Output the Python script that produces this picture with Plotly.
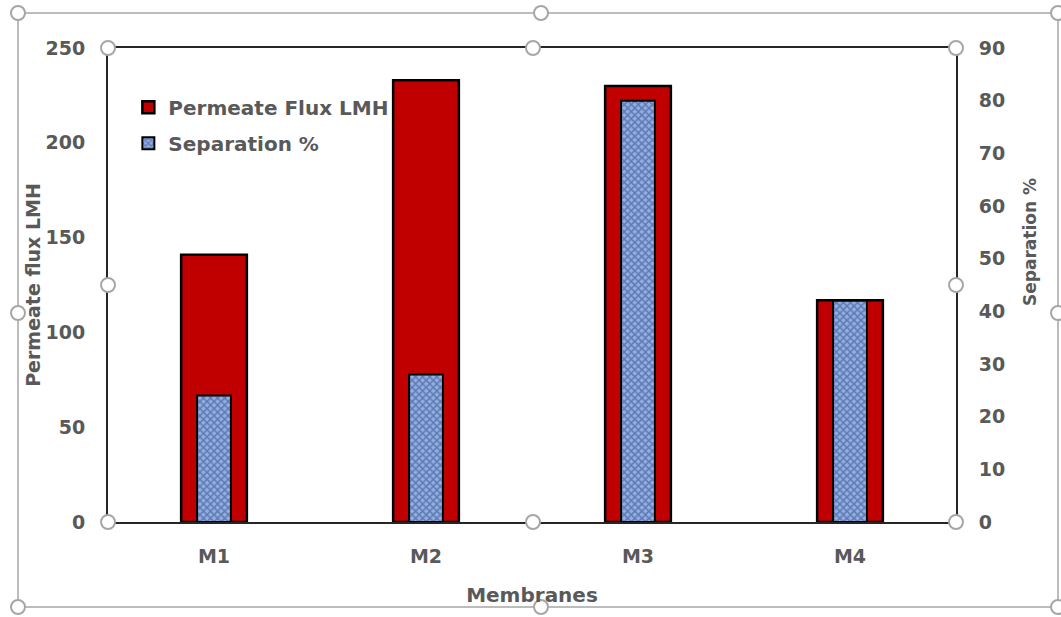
import plotly.graph_objects as go

categories = ["M1", "M2", "M3", "M4"]
flux_lmh = [141, 233, 230, 117]
separation_pct = [24, 28, 80, 42]
left_ticks = [0, 50, 100, 150, 200, 250]
right_ticks = [0, 10, 20, 30, 40, 50, 60, 70, 80, 90]

W, H = 1061, 617
L, R, T, B = 108, 956, 48, 522  # plot area in pixels

FONT = "DejaVu Sans"
GRAY = "#595959"

def f(size):
    return dict(family=FONT, size=size, color=GRAY, weight="bold")

fig = go.Figure()
fig.add_trace(go.Bar(
    x=categories, y=flux_lmh, name="Permeate Flux LMH", legendgroup="g1",
    marker=dict(color="#C00000", line=dict(color="black", width=2.5)),
    width=0.31, yaxis="y", offsetgroup="a",
))
fig.add_trace(go.Bar(
    x=categories, y=separation_pct, name="Separation %", legendgroup="g2",
    marker=dict(color="#8EAAE0", line=dict(color="black", width=2),
                pattern=dict(shape="x", fgcolor="#2A4682", bgcolor="#92AEE2", size=5, solidity=0.5)),
    width=0.16, yaxis="y2", offsetgroup="a",
))

def px_to_paper(x, y):
    return (x - L) / (R - L), (B - y) / (B - T)

shapes = []
x0, y0 = px_to_paper(18, 13)
x1, y1 = px_to_paper(1058, 607)
shapes.append(dict(type="rect", xref="paper", yref="paper", x0=x0, y0=y0, x1=x1, y1=y1,
                   line=dict(color="#A6A6A6", width=1.5), layer="below"))
handles = [(18, 13), (541, 13), (1058, 13), (18, 313), (1058, 313), (18, 607), (541, 607), (1058, 607),
           (108, 48), (533, 48), (956, 48), (108, 285), (956, 285), (108, 522), (533, 522), (956, 522)]
r = 7
for hx, hy in handles:
    a0, b0 = px_to_paper(hx - r, hy + r)
    a1, b1 = px_to_paper(hx + r, hy - r)
    shapes.append(dict(type="circle", xref="paper", yref="paper", x0=a0, y0=b0, x1=a1, y1=b1,
                       line=dict(color="#A6A6A6", width=2), fillcolor="white", layer="above"))

ax_r, ay_r = px_to_paper(1030, 242)
fig.add_annotation(text="Separation %", xref="paper", yref="paper", x=ax_r, y=ay_r,
                   textangle=-90, showarrow=False, font=f(17), xanchor="center", yanchor="middle")

fig.update_layout(
    width=W, height=H,
    margin=dict(l=L, r=W - R, t=T, b=H - B),
    paper_bgcolor="white", plot_bgcolor="white",
    font=f(19),
    barmode="overlay",
    showlegend=True,
    legend=dict(x=0.024, y=0.916, xanchor="left", yanchor="top", traceorder="grouped",
                font=f(20), bgcolor="rgba(0,0,0,0)", itemwidth=30, tracegroupgap=7),
    xaxis=dict(showline=True, linecolor="#262626", linewidth=2, mirror=True, ticks="",
               tickfont=f(19), ticklabelstandoff=16,
               title=dict(text="Membranes", font=f(20), standoff=22)),
    yaxis=dict(range=[0, 250], tickvals=left_ticks, showgrid=False, zeroline=False,
               showline=True, linecolor="#262626", linewidth=2, ticks="",
               tickfont=f(19), ticklabelstandoff=17,
               title=dict(text="Permeate flux LMH", font=f(19), standoff=0)),
    yaxis2=dict(range=[0, 90], tickvals=right_ticks, overlaying="y", side="right", showgrid=False, zeroline=False,
                showline=True, linecolor="#262626", linewidth=2, ticks="",
                tickfont=f(19), ticklabelstandoff=17),
    shapes=shapes,
)

fig.write_html("out.html")
